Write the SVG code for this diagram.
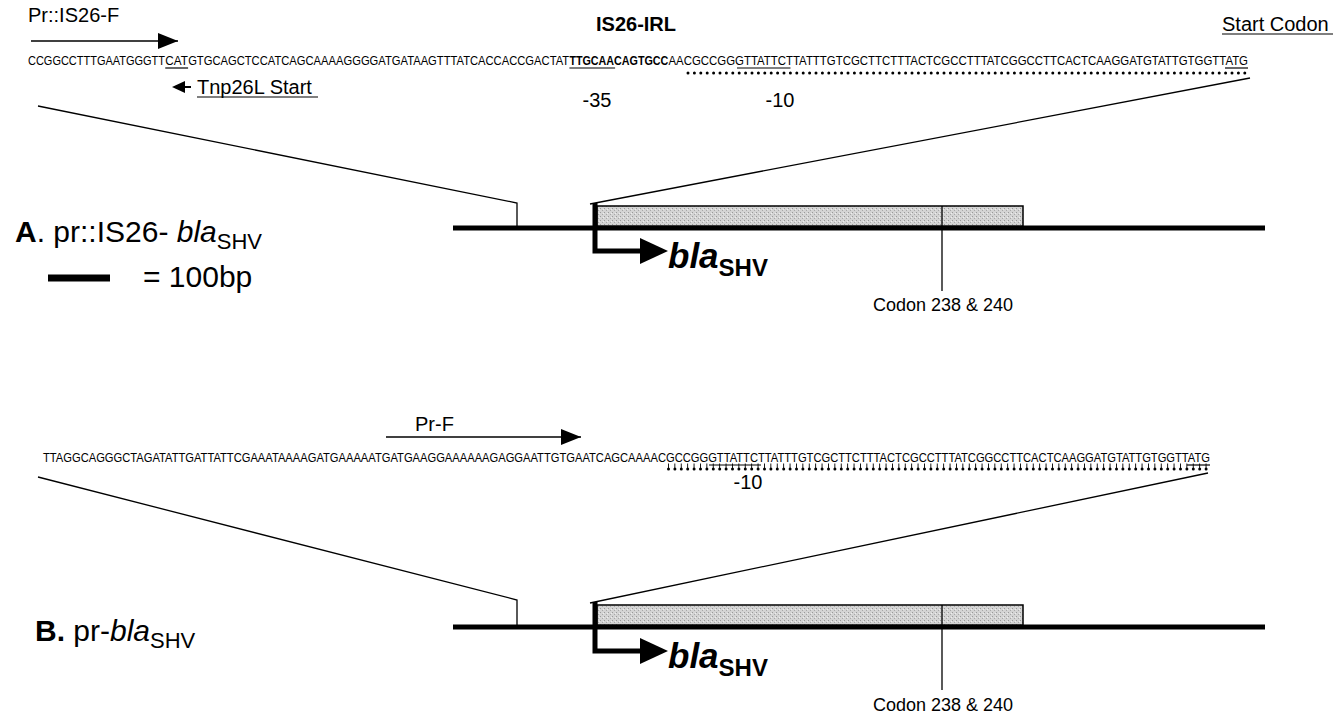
<svg xmlns="http://www.w3.org/2000/svg" width="1336" height="724" viewBox="0 0 1336 724">
<style>
text{font-family:"Liberation Sans",Arial,sans-serif;fill:#000}
.seq{font-size:13px}
.lbl{font-size:20px}
.big{font-size:30px}
.bsub{font-size:22px}
.bla{font-size:35px;font-weight:bold;font-style:italic}
.sub{font-size:24px;font-weight:bold;font-style:normal}
.cod{font-size:18px}
.thin{stroke:#000;stroke-width:1.3;fill:none}
.ul{stroke:#000;stroke-width:1.2;fill:none}
.thick{stroke:#000;stroke-width:5;fill:none}
.dots{stroke:#000;stroke-width:3;stroke-linecap:round;stroke-dasharray:0 6.4;fill:none}
.stems{stroke:#000;stroke-width:5;stroke-dasharray:0.9 5.5;fill:none}
.box{fill:url(#stip);stroke:#000;stroke-width:1.5}
</style>
<defs>
<pattern id="stip" width="4" height="4" patternUnits="userSpaceOnUse">
<rect width="4" height="4" fill="#d4d4d4"/>
<rect x="0" y="0" width="1" height="1" fill="#9a9a9a"/>
<rect x="2" y="2" width="1" height="1" fill="#a8a8a8"/>
<rect x="3" y="1" width="1" height="1" fill="#eeeeee"/>
</pattern>
<marker id="ahB" viewBox="0 0 10 10" refX="10" refY="5" markerWidth="20" markerHeight="16" markerUnits="userSpaceOnUse" orient="auto" preserveAspectRatio="none"><path d="M0,0 L10,5 L0,10 z" fill="#000"/></marker>
</defs>

<g id="panelA-sequence">
<text x="28" y="22" class="lbl">Pr::IS26-F</text>
<text x="636" y="31" class="lbl" font-weight="bold" text-anchor="middle">IS26-IRL</text>
<text x="1222" y="31" class="lbl">Start Codon</text>
<line x1="1222" y1="34" x2="1333" y2="34" class="ul"/>
<text x="28" y="65" class="seq" textLength="137" lengthAdjust="spacingAndGlyphs">CCGGCCTTTGAATGGGTT</text>
<text x="165.25" y="65" class="seq" textLength="22.6" lengthAdjust="spacingAndGlyphs">CAT</text>
<text x="188.125" y="65" class="seq" textLength="381" lengthAdjust="spacingAndGlyphs">GTGCAGCTCCATCAGCAAAAGGGGATGATAAGTTTATCACCACCGACTAT</text>
<text x="569.375" y="65" class="seq" font-weight="bold" textLength="98.9" lengthAdjust="spacingAndGlyphs">TTGCAACAGTGCC</text>
<text x="668.5" y="65" class="seq" textLength="579.5" lengthAdjust="spacingAndGlyphs">AACGCCGGGTTATTCTTATTTGTCGCTTCTTTACTCGCCTTTATCGGCCTTCACTCAAGGATGTATTGTGGTTATG</text>
<line x1="165.25" y1="68" x2="188.1" y2="68" class="ul"/>
<line x1="569.4" y1="68" x2="615.1" y2="68" class="ul"/>
<line x1="737" y1="68" x2="790.5" y2="68" class="ul"/>
<line x1="1225" y1="68" x2="1248" y2="68" class="ul"/>
<line x1="688" y1="73" x2="1248" y2="73" class="dots"/>
<line x1="31" y1="41" x2="178" y2="41" class="thin" marker-end="url(#ahB)"/>
<polygon points="172,87 185,81 185,93" fill="#000"/>
<line x1="184" y1="87" x2="191" y2="87" stroke="#000" stroke-width="2"/>
<text x="197" y="94" class="lbl">Tnp26L Start</text>
<line x1="197" y1="97" x2="318" y2="97" class="ul"/>
<text x="597" y="107" class="lbl" text-anchor="middle">-35</text>
<text x="780" y="107" class="lbl" text-anchor="middle">-10</text>
</g>

<g id="panelA-map">
<text x="15" y="242" class="big"><tspan font-weight="bold">A</tspan>. pr::IS26- <tspan font-style="italic">bla</tspan><tspan class="bsub" dy="7">SHV</tspan></text>
<line x1="453" y1="228" x2="1265" y2="228" class="thick"/>
<rect x="597" y="206" width="426" height="20" class="box"/>
<line x1="942" y1="206" x2="942" y2="291" class="thin"/>
<text x="943" y="311" class="cod" text-anchor="middle">Codon 238 &amp; 240</text>
<path d="M595,203 V251 H642" class="thick"/>
<polygon points="640,238 668,251 640,264" fill="#000"/>
<text x="668" y="268" class="bla">bla<tspan class="sub" dy="8">SHV</tspan></text>
</g>

<g id="scale">
<line x1="48" y1="278" x2="110" y2="278" stroke="#000" stroke-width="7"/>
<text x="143" y="287" class="big">= 100bp</text>
</g>

<g id="panelB-sequence">
<text x="415" y="431" class="lbl">Pr-F</text>
<line x1="386" y1="437" x2="581" y2="437" class="thin" marker-end="url(#ahB)"/>
<text x="43" y="462" class="seq" textLength="1167" lengthAdjust="spacingAndGlyphs">TTAGGCAGGGCTAGATATTGATTATTCGAAATAAAAGATGAAAAATGATGAAGGAAAAAAGAGGAATTGTGAATCAGCAAAACGCCGGGTTATTCTTATTTGTCGCTTCTTTACTCGCCTTTATCGGCCTTCACTCAAGGATGTATTGTGGTTATG</text>
<line x1="709" y1="465" x2="761" y2="465" class="ul"/>
<line x1="1187" y1="465" x2="1210" y2="465" class="ul"/>
<line x1="668" y1="466" x2="1210" y2="466" class="stems"/>
<line x1="668.5" y1="469" x2="1210" y2="469" class="dots"/>
<text x="748" y="489" class="lbl" text-anchor="middle">-10</text>
</g>

<g id="panelB-map">
<text x="35" y="641" class="big"><tspan font-weight="bold">B.</tspan> pr-<tspan font-style="italic">bla</tspan><tspan class="bsub" dy="7">SHV</tspan></text>
<line x1="453" y1="627" x2="1265" y2="627" class="thick"/>
<rect x="597" y="605" width="426" height="20" class="box"/>
<line x1="942" y1="605" x2="942" y2="690" class="thin"/>
<text x="943" y="711" class="cod" text-anchor="middle">Codon 238 &amp; 240</text>
<path d="M595,602 V651 H642" class="thick"/>
<polygon points="640,638 668,651 640,664" fill="#000"/>
<text x="668" y="668" class="bla">bla<tspan class="sub" dy="8">SHV</tspan></text>
</g>

<g id="connectors">
<polyline points="38,106 517,203 517,226" class="thin"/>
<line x1="1250" y1="78" x2="590" y2="204" class="thin"/>
<polyline points="38,477 517,600 517,625" class="thin"/>
<line x1="1208" y1="473" x2="590" y2="603" class="thin"/>
</g>
</svg>
